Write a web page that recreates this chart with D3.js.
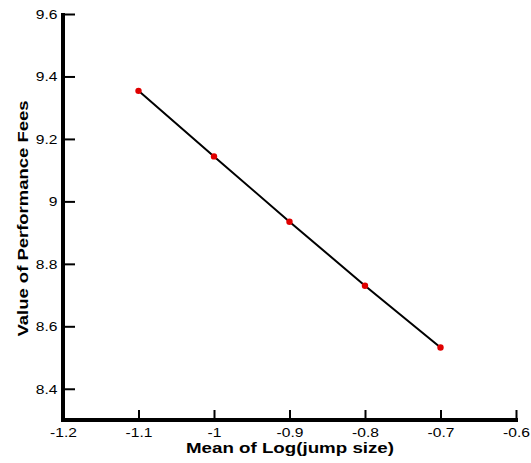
<!DOCTYPE html>
<html>
<head>
<meta charset="utf-8">
<script src="https://cdn.jsdelivr.net/npm/d3@7"></script>
<style>
  html, body { margin: 0; padding: 0; background: #fff; }
  svg { display: block; }
</style>
</head>
<body>
<svg id="chart" width="531" height="463"></svg>
<script>
// Mean of log jump size vs. value of performance fees
const jumpMeans = [-1.1, -1.0, -0.9, -0.8, -0.7];
const feeValues = [9.354, 9.144, 8.935, 8.730, 8.532];
const xTicks = [-1.2, -1.1, -1.0, -0.9, -0.8, -0.7, -0.6];
const xTickLabels = ["-1.2", "-1.1", "-1", "-0.9", "-0.8", "-0.7", "-0.6"];
const yTicks = [8.4, 8.6, 8.8, 9.0, 9.2, 9.4, 9.6];
const yTickLabels = ["8.4", "8.6", "8.8", "9", "9.2", "9.4", "9.6"];
const xTitle = "Mean of Log(jump size)";
const yTitle = "Value of Performance Fees";

const svg = d3.select("#chart");
const plotLeft = 63, plotRight = 516, plotTop = 14, plotBottom = 420;

const x = d3.scaleLinear().domain([-1.2, -0.6]).range([plotLeft, plotRight]);
const y = d3.scaleLinear().domain([8.3, 9.6]).range([plotBottom, plotTop]);

const font = "Liberation Sans, Arial, Helvetica, sans-serif";
const labelStretch = 1.2; // wide lettering for the tick labels

// Line through the points
const pts = jumpMeans.map((d, i) => [d, feeValues[i]]);
svg.append("path")
  .datum(pts)
  .attr("fill", "none")
  .attr("stroke", "#000")
  .attr("stroke-width", 2)
  .attr("d", d3.line().x(d => x(d[0])).y(d => y(d[1])));

svg.selectAll("circle.pt")
  .data(pts)
  .enter().append("circle")
  .attr("class", "pt")
  .attr("cx", d => x(d[0]))
  .attr("cy", d => y(d[1]))
  .attr("r", 3.2)
  .attr("fill", "#e00000");

// Bottom axis (ticks point inward)
const xAxis = d3.axisBottom(x)
  .tickValues(xTicks)
  .tickFormat((d, i) => xTickLabels[i])
  .tickSizeInner(-10)
  .tickSizeOuter(0);
const gx = svg.append("g").attr("transform", `translate(0,${plotBottom})`).call(xAxis);
gx.select(".domain").attr("stroke-width", 4).attr("d", `M${plotLeft - 2},0H${plotRight + 2}`);
gx.selectAll(".tick line").attr("stroke-width", 2);
gx.selectAll(".tick text")
  .attr("font-family", font).attr("font-size", 13).attr("fill", "#000")
  .attr("y", 17.5).attr("dy", "0")
  .attr("transform", `scale(${labelStretch},1)`);

// Left axis (ticks point inward)
const yAxis = d3.axisLeft(y)
  .tickValues(yTicks)
  .tickFormat((d, i) => yTickLabels[i])
  .tickSizeInner(-12)
  .tickSizeOuter(0);
const gy = svg.append("g").attr("transform", `translate(${plotLeft},0)`).call(yAxis);
gy.select(".domain").attr("stroke-width", 4).attr("d", `M0,${plotTop - 1}V${plotBottom + 2}`);
gy.selectAll(".tick line").attr("stroke-width", 2);
gy.selectAll(".tick text")
  .attr("font-family", font).attr("font-size", 13).attr("fill", "#000")
  .attr("x", -5.5 / labelStretch)
  .attr("dy", "0.34em")
  .attr("transform", `scale(${labelStretch},1)`);

// Axis titles
svg.append("text")
  .attr("x", 290)
  .attr("y", 452.5)
  .attr("text-anchor", "middle")
  .attr("font-family", font)
  .attr("font-weight", "bold")
  .attr("font-size", 15.5)
  .attr("textLength", 208)
  .attr("lengthAdjust", "spacingAndGlyphs")
  .text(xTitle);

svg.append("text")
  .attr("transform", `translate(28,218.5) rotate(-90)`)
  .attr("text-anchor", "middle")
  .attr("font-family", font)
  .attr("font-weight", "bold")
  .attr("font-size", 15.5)
  .attr("textLength", 236)
  .attr("lengthAdjust", "spacingAndGlyphs")
  .text(yTitle);
</script>
</body>
</html>
